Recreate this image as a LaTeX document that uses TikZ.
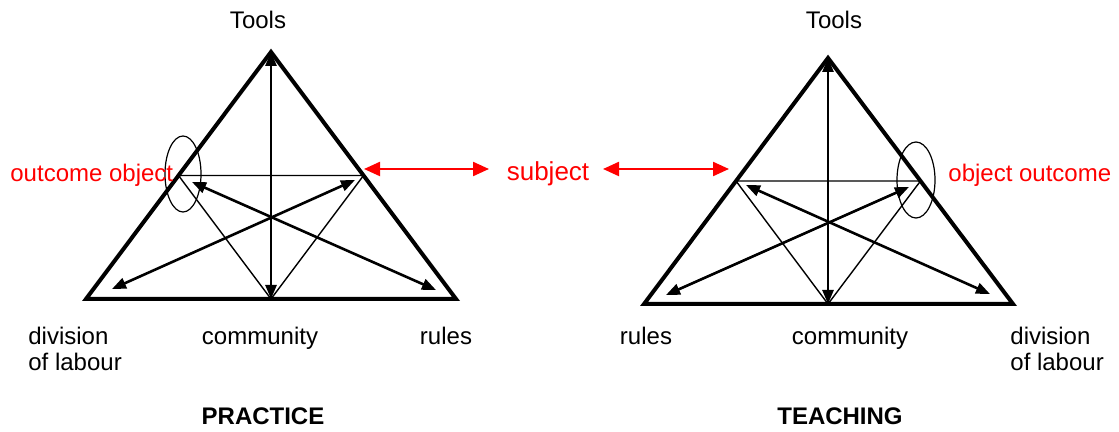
\documentclass[tikz,border=0pt]{standalone}
\usepackage{fontspec}
\setmainfont{Liberation Sans}
\usetikzlibrary{arrows.meta}
\begin{document}
\begin{tikzpicture}[x=0.5pt,y=-0.5pt,
  outer/.style={line width=2pt, line join=miter},
  inner/.style={line width=0.7pt},
  dbl/.style={line width=1.3pt, {Triangle[length=7pt,width=5.5pt]}-{Triangle[length=7pt,width=5.5pt]}},
  redarr/.style={red, line width=1.1pt, {Triangle[length=8pt,width=7pt]}-{Triangle[length=8pt,width=7pt]}},
  lbl/.style={font=\fontsize{12}{14}\selectfont, inner sep=0pt},
  redlbl/.style={lbl, text=red},
  ttl/.style={lbl, font=\fontsize{12}{14}\selectfont\bfseries},
  ring/.style={line width=0.6pt}]
\useasboundingbox (0,0) rectangle (1119,432);
% ---------- left triangle (PRACTICE)
\coordinate (LA) at (271,52);
\coordinate (LBL) at (86,299);
\coordinate (LBR) at (456,299);
\coordinate (LBM) at (271,299);
\coordinate (LIL) at (178.5,175.5);
\coordinate (LIR) at (363.5,175.5);
\draw[outer] (LA) -- (LBL) -- (LBR) -- cycle;
\draw[inner] (LIL) -- (LIR) -- (LBM) -- cycle;
\draw[dbl] (LA) -- (LBM);
\coordinate (L1a) at (112,289);
\coordinate (L1b) at (355,180);
\coordinate (L2a) at (192,182);
\coordinate (L2b) at (436,290);
\draw[dbl] (L1a) -- (L1b);
\draw[dbl] (L2a) -- (L2b);
\draw[ring] (183,174) ellipse [x radius=18, y radius=38];
% ---------- right triangle (TEACHING)
\coordinate (RA) at (828,58);
\coordinate (RBL) at (644,304);
\coordinate (RBR) at (1013,304);
\coordinate (RBM) at (828,304);
\coordinate (RIL) at (736,181);
\coordinate (RIR) at (920.5,181);
\draw[outer] (RA) -- (RBL) -- (RBR) -- cycle;
\draw[inner] (RIL) -- (RIR) -- (RBM) -- cycle;
\draw[dbl] (RA) -- (RBM);
\coordinate (R1a) at (666,295);
\coordinate (R1b) at (909,187);
\coordinate (R2a) at (746,185);
\coordinate (R2b) at (990,294);
\draw[dbl] (R1a) -- (R1b);
\draw[dbl] (R2a) -- (R2b);
\draw[ring] (916,180) ellipse [x radius=19, y radius=38];
% ---------- subject and red arrows
\node[redlbl, font=\fontsize{13}{15}\selectfont, anchor=base] (subj) at (548,181) {subject};
\coordinate (S1a) at (364,169);
\coordinate (S1b) at (489,169);
\coordinate (S2a) at (603,169);
\coordinate (S2b) at (729,169);
\draw[redarr] (S1a) -- (S1b);
\draw[redarr] (S2a) -- (S2b);
% ---------- labels
\node[lbl, anchor=base] (toolsL) at (258,29) {Tools};
\node[lbl, anchor=base] (toolsR) at (834,29) {Tools};
\node[redlbl, anchor=base west] (outobj) at (10,182) {outcome object};
\node[redlbl, anchor=base west] (objout) at (948,182) {object outcome};
\node[lbl, anchor=base west] (divL1) at (28,345) {division};
\node[lbl, anchor=base west] (divL2) at (28,371) {of labour};
\node[lbl, anchor=base] (comL) at (260,345) {community};
\node[lbl, anchor=base] (rulL) at (446,345) {rules};
\node[lbl, anchor=base] (rulR) at (646,345) {rules};
\node[lbl, anchor=base] (comR) at (850,345) {community};
\node[lbl, anchor=base west] (divR1) at (1010,345) {division};
\node[lbl, anchor=base west] (divR2) at (1010,371) {of labour};
\node[ttl, anchor=base] (prac) at (263,425) {PRACTICE};
\node[ttl, anchor=base] (teach) at (840,425) {TEACHING};
\end{tikzpicture}
\end{document}
